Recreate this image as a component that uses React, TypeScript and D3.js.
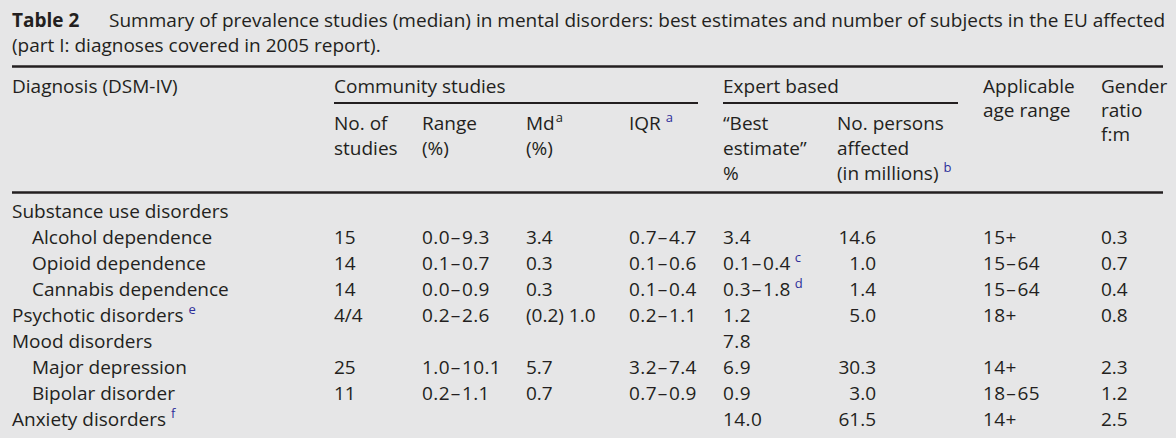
import React from "react";
import * as d3 from "d3";

const diagnoses = [
  "Substance use disorders",
  "Alcohol dependence",
  "Opioid dependence",
  "Cannabis dependence",
  "Psychotic disorders",
  "Mood disorders",
  "Major depression",
  "Bipolar disorder",
  "Anxiety disorders",
];
const indented = [false, true, true, true, false, false, true, true, false];
const diagNotes = ["", "", "", "", "e", "", "", "", "f"];
const nStudies = ["", "15", "14", "14", "4/4", "", "25", "11", ""];
const rangePct = ["", "0.0–9.3", "0.1–0.7", "0.0–0.9", "0.2–2.6", "", "1.0–10.1", "0.2–1.1", ""];
const mdPct = ["", "3.4", "0.3", "0.3", "(0.2) 1.0", "", "5.7", "0.7", ""];
const iqr = ["", "0.7–4.7", "0.1–0.6", "0.1–0.4", "0.2–1.1", "", "3.2–7.4", "0.7–0.9", ""];
const bestEstimate = ["", "3.4", "0.1–0.4", "0.3–1.8", "1.2", "7.8", "6.9", "0.9", "14.0"];
const bestNotes = ["", "", "c", "d", "", "", "", "", ""];
const personsAffected = ["", "14.6", "1.0", "1.4", "5.0", "", "30.3", "3.0", "61.5"];
const ageRange = ["", "15+", "15–64", "15–64", "18+", "", "14+", "18–65", "14+"];
const genderRatio = ["", "0.3", "0.7", "0.4", "0.8", "", "2.3", "1.2", "2.5"];

const W = 1176;
const H = 438;
const FONT = "'Open Sans', 'Noto Sans', sans-serif";
const FS = 19;
const INK = "#231f20";
const BLUE = "#2e2e9a";

function Num({ s }: { s: string }) {
  const parts = s.split("–");
  return (
    <>
      {parts.map((p, k) => (
        <React.Fragment key={k}>
          {k > 0 ? (
            <tspan dx={0.5} letterSpacing={1.5} fontFamily="'DejaVu Sans', sans-serif" fontSize={20}>–</tspan>
          ) : null}
          <tspan letterSpacing={0.4} fontFamily={FONT} fontSize={FS}>{p}</tspan>
        </React.Fragment>
      ))}
    </>
  );
}

export default function App() {
  const y = d3.scaleLinear().domain([0, diagnoses.length - 1]).range([218, 426]);
  const rows = d3.range(diagnoses.length);
  const colX = { diag: 12, n: 334, range: 422, md: 526, iqr: 629, best: 723, persons: 876, age: 983, gender: 1101 };
  const sup = (t: string, color = BLUE, dx = 5) => (
    <tspan dx={dx} dy={-8} fontSize={13} fill={color} letterSpacing={0}>{t}</tspan>
  );
  return (
    <svg width={W} height={H} style={{ position: "absolute", left: 0, top: 0, background: "#e6e6e7" }}
      fontFamily={FONT} fontSize={FS} fill={INK}>
      <rect width={W} height={H} fill="#e6e6e7" />
      <text x={12} y={27} fontWeight="bold">Table 2</text>
      <text x={109} y={27} textLength={1056} lengthAdjust="spacing">Summary of prevalence studies (median) in mental disorders: best estimates and number of subjects in the EU affected</text>
      <text x={12} y={52}>(part I: diagnoses covered in 2005 report).</text>

      <line x1={12} x2={1163} y1={66.5} y2={66.5} stroke={INK} strokeWidth={2.5} />
      <line x1={334} x2={698} y1={103} y2={103} stroke={INK} strokeWidth={2} />
      <line x1={723} x2={958} y1={103} y2={103} stroke={INK} strokeWidth={2} />
      <line x1={12} x2={1163} y1={192.5} y2={192.5} stroke={INK} strokeWidth={2.5} />

      <text x={colX.diag} y={93}>Diagnosis (DSM-IV)</text>
      <text x={colX.n} y={93}>Community studies</text>
      <text x={colX.best} y={93}>Expert based</text>
      <text x={colX.age} y={93}>Applicable</text>
      <text x={colX.age} y={117}>age range</text>
      <text x={colX.gender} y={93}>Gender</text>
      <text x={colX.gender} y={117}>ratio</text>
      <text x={colX.gender} y={141}>f:m</text>

      <text x={colX.n} y={130}>No. of</text>
      <text x={colX.n} y={155}>studies</text>
      <text x={colX.range} y={130}>Range</text>
      <text x={colX.range} y={155}>(%)</text>
      <text x={colX.md} y={130}>Md{sup("a", INK, 1)}</text>
      <text x={colX.md} y={155}>(%)</text>
      <text x={colX.iqr} y={130}>IQR{sup("a")}</text>
      <text x={colX.best} y={130}>“Best</text>
      <text x={colX.best} y={155}>estimate”</text>
      <text x={colX.best} y={180}>%</text>
      <text x={837} y={130}>No. persons</text>
      <text x={837} y={155}>affected</text>
      <text x={837} y={180}>(in millions){sup("b")}</text>

      {rows.map((i) => (
        <g key={i}>
          <text x={indented[i] ? 32 : colX.diag} y={y(i)}>
            {diagnoses[i]}
            {diagNotes[i] ? sup(diagNotes[i]) : null}
          </text>
          <text x={colX.n} y={y(i)}>{nStudies[i]}</text>
          <text x={colX.range} y={y(i)}><Num s={rangePct[i]} /></text>
          <text x={colX.md} y={y(i)}>{mdPct[i]}</text>
          <text x={colX.iqr} y={y(i)}><Num s={iqr[i]} /></text>
          <text x={colX.best} y={y(i)}>
            <Num s={bestEstimate[i]} />
            {bestNotes[i] ? sup(bestNotes[i], BLUE, 4) : null}
          </text>
          <text x={colX.persons} y={y(i)} textAnchor="end">{personsAffected[i]}</text>
          <text x={colX.age} y={y(i)}><Num s={ageRange[i]} /></text>
          <text x={colX.gender} y={y(i)}>{genderRatio[i]}</text>
        </g>
      ))}
    </svg>
  );
}
